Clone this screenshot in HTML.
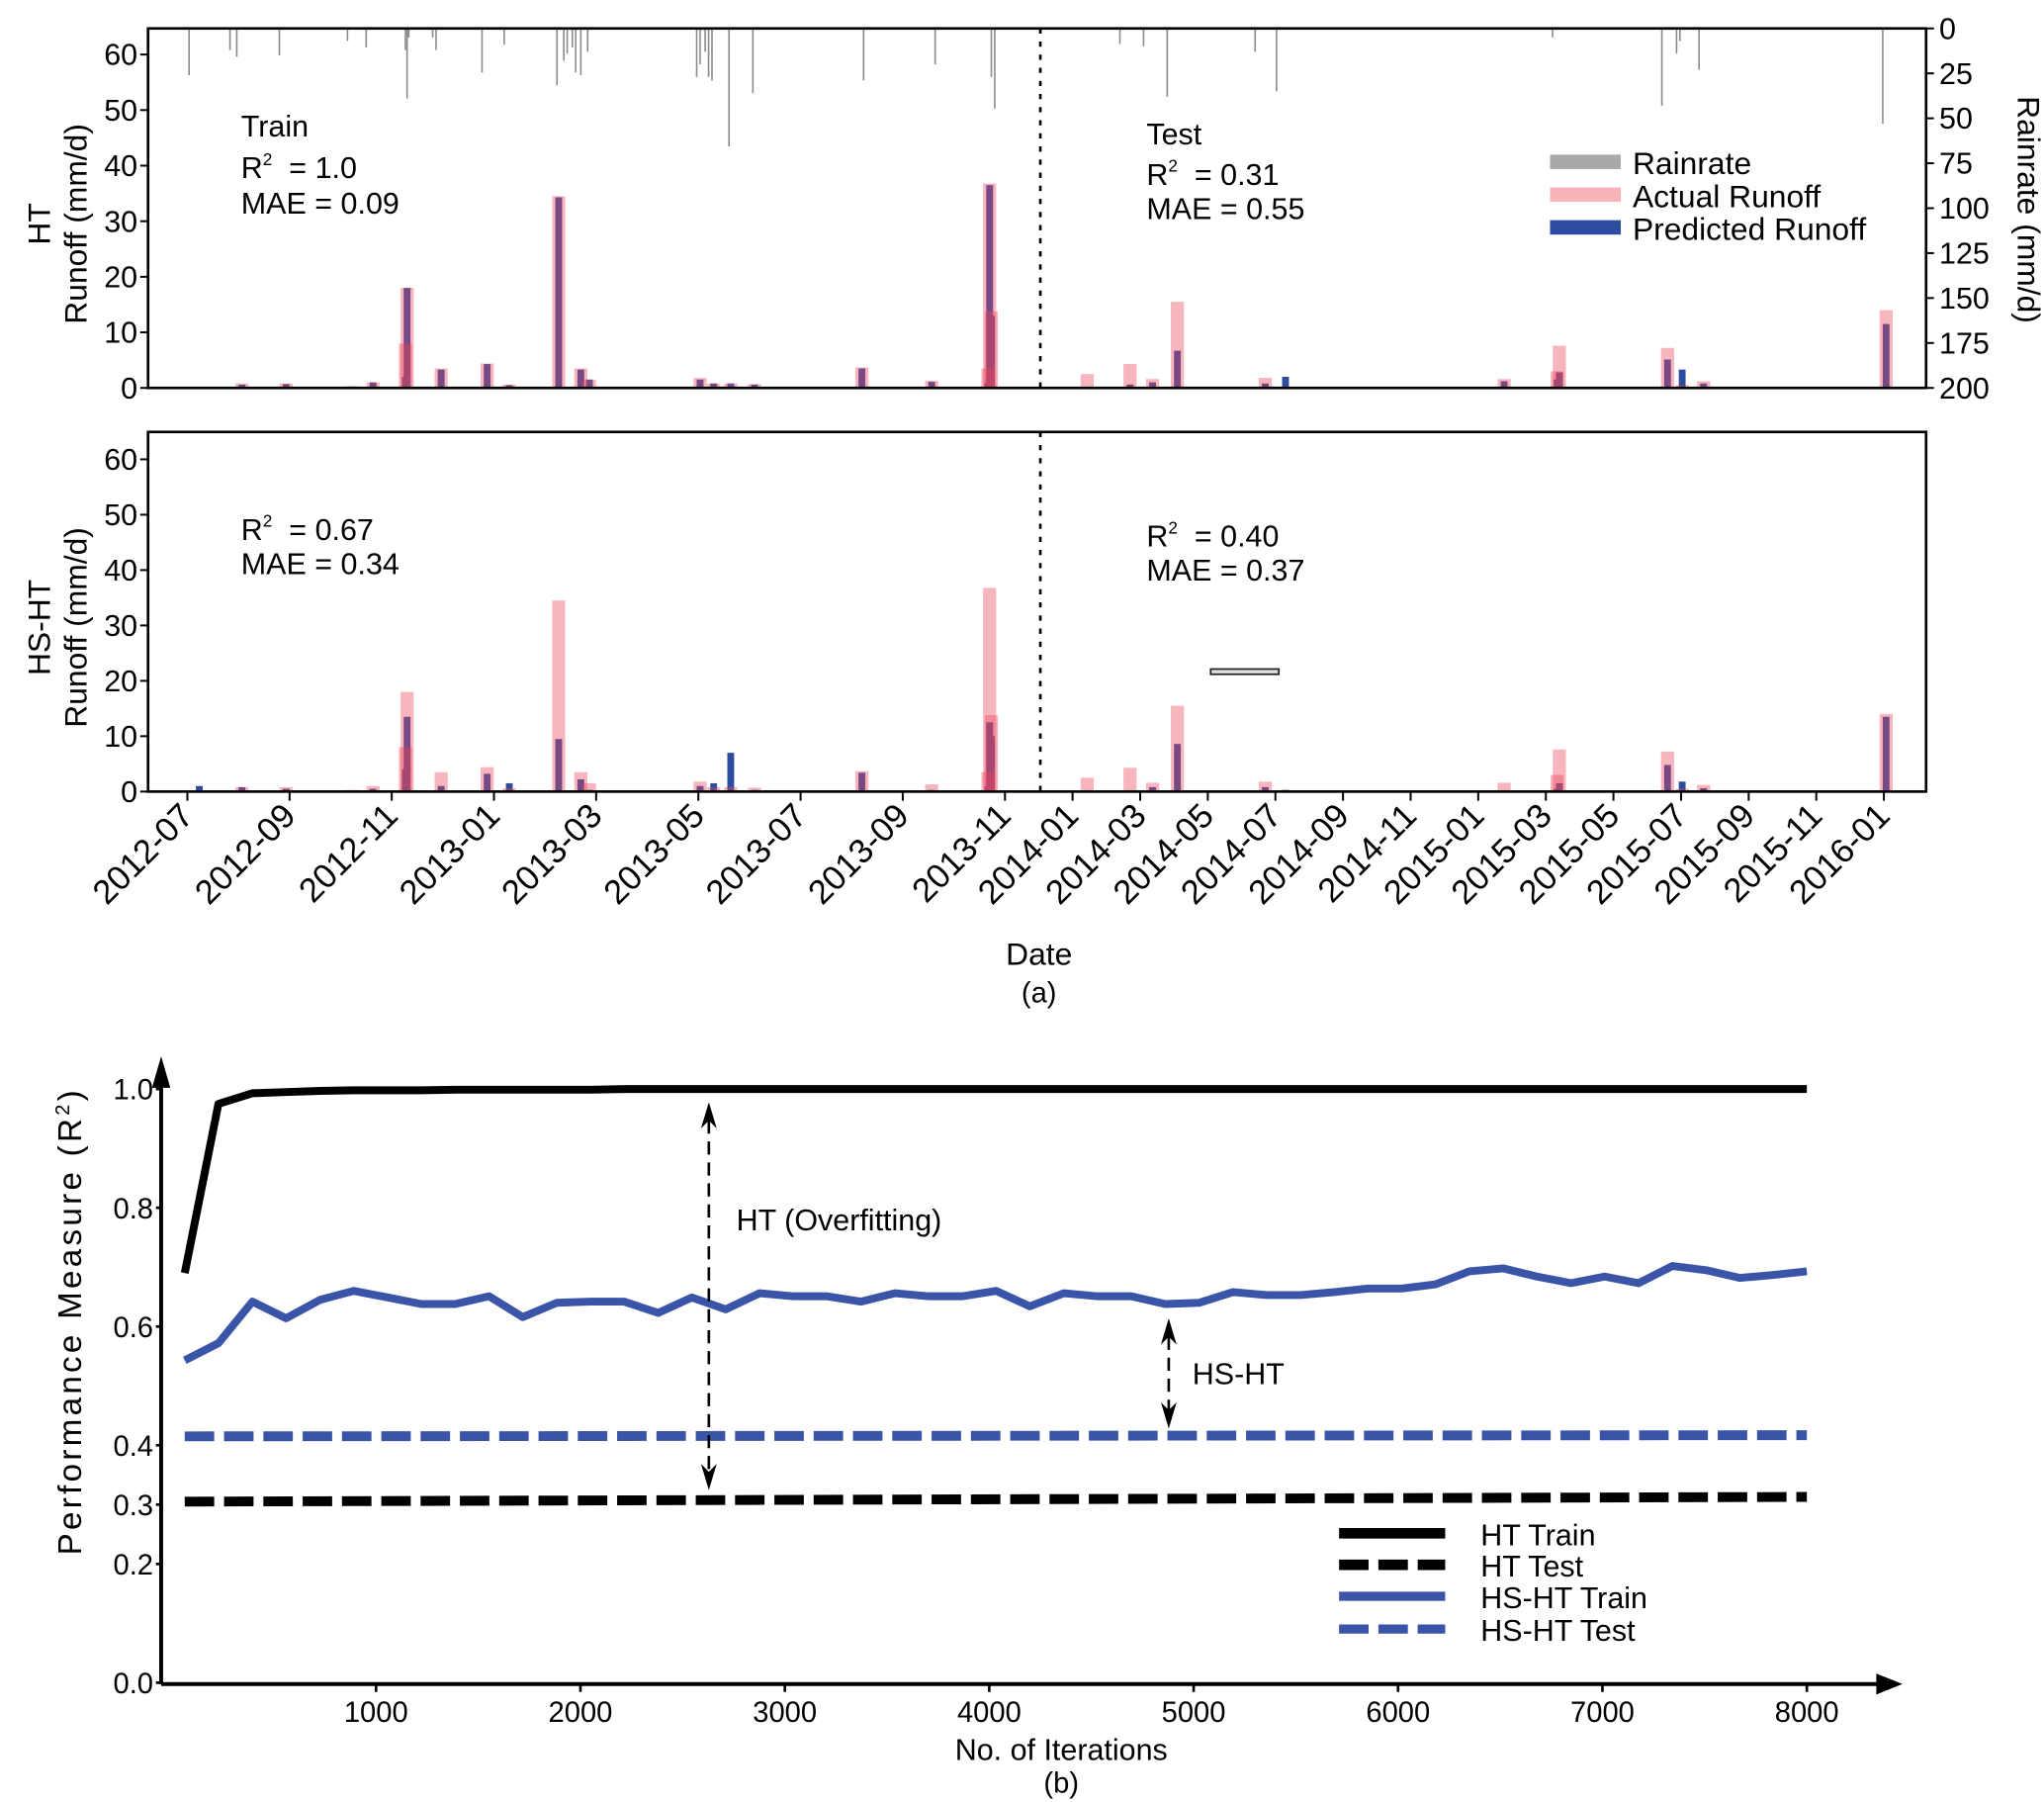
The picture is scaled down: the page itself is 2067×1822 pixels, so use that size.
<!DOCTYPE html>
<html><head><meta charset="utf-8"><style>
html,body{margin:0;padding:0;background:#fff;}
svg{display:block;font-family:"Liberation Sans",Arial,sans-serif;}
</style></head><body>
<svg id="fig" width="2067" height="1822" viewBox="0 0 1560 1375" preserveAspectRatio="none" xmlns="http://www.w3.org/2000/svg">
<rect width="1560" height="1375" fill="#fff"/>
<g id="pa"></g>
<g id="pb"></g>
</svg>
<script>
// ---------- Panel (a) data ----------
const eventDates = ["2012-07-08","2012-08-03","2012-08-29","2012-10-08","2012-10-20","2012-11-09","2012-11-10","2012-11-30","2012-12-27","2013-01-10","2013-02-09","2013-02-22","2013-02-27","2013-05-02","2013-05-10","2013-05-20","2013-06-04","2013-08-07","2013-09-18","2013-10-21","2013-10-22","2013-10-23","2014-01-14","2014-02-22","2014-03-12","2014-04-04","2014-06-22","2014-07-10","2015-01-24","2015-03-11","2015-03-13","2015-06-19","2015-07-02","2015-07-21","2016-01-03"];
const actualRunoff = [0,0.8,0.8,0.3,1.0,8,18,3.5,4.4,0.6,34.5,3.5,1.5,1.8,0.8,0.8,0.7,3.7,1.3,3.5,36.8,13.8,2.5,4.3,1.6,15.5,1.8,0,1.6,3.0,7.6,7.2,0.5,1.2,14];
const predHT = [0,0.6,0.7,0.2,1.0,2,18,3.3,4.3,0.5,34.3,3.3,1.5,1.5,0.8,0.8,0.6,3.5,1.1,1,36.5,13,0.1,0.6,1.0,6.7,0.8,2.0,1.2,1.5,2.8,5.1,3.3,0.8,11.5];
const predHSHT = [1.0,0.8,0.5,0.2,0.5,4,13.5,1,3.2,1.5,9.5,2.2,0.3,1.0,1.5,7.0,0.3,3.4,0.3,1,12.5,10,0,0,0.8,8.6,0.8,0.3,0,0.5,1.5,4.8,1.8,0.6,13.5];
const rainDates = ["2012-07-02","2012-07-26","2012-07-30","2012-08-25","2012-10-05","2012-10-16","2012-11-09","2012-11-10","2012-11-11","2012-11-25","2012-11-27","2012-12-24","2013-01-07","2013-02-08","2013-02-12","2013-02-14","2013-02-17","2013-02-19","2013-02-22","2013-02-26","2013-04-30","2013-05-02","2013-05-05","2013-05-07","2013-05-09","2013-05-19","2013-06-03","2013-08-08","2013-09-20","2013-10-23","2013-10-25","2014-02-13","2014-03-04","2014-03-25","2014-06-13","2014-07-02","2015-03-07","2015-06-14","2015-06-27","2015-06-30","2015-07-17","2015-12-30"];
const rainValues = [26,12,15.8,15,7,10.6,12,39,5,5,12,24.5,9,31.6,18,14,10.6,24.5,26,13,27,20,13,27,29,65.6,36,29,20,27,44.6,8.7,9.9,38,13,35,5,43,14,7,23,53];
const dateTicks = ["2012-07","2012-09","2012-11","2013-01","2013-03","2013-05","2013-07","2013-09","2013-11","2014-01","2014-03","2014-05","2014-07","2014-09","2014-11","2015-01","2015-03","2015-05","2015-07","2015-09","2015-11","2016-01"];
const runoffTicks = [0,10,20,30,40,50,60];
const rainTicks = [0,25,50,75,100,125,150,175,200];

// ---------- Panel (b) data ----------
const iterations = [64,229,395,560,726,891,1057,1222,1387,1553,1718,1884,2049,2214,2380,2545,2711,2876,3041,3207,3372,3538,3703,3868,4034,4199,4365,4530,4695,4861,5026,5192,5357,5522,5688,5853,6019,6184,6349,6515,6680,6846,7011,7176,7342,7507,7673,7838,8000];
const htTrain = [0.69,0.975,0.993,0.995,0.997,0.998,0.998,0.998,0.999,0.999,0.999,0.999,0.999,1,1,1,1,1,1,1,1,1,1,1,1,1,1,1,1,1,1,1,1,1,1,1,1,1,1,1,1,1,1,1,1,1,1,1,1];
const hsTrain = [0.543,0.572,0.642,0.614,0.645,0.660,0.649,0.638,0.638,0.651,0.616,0.640,0.642,0.642,0.623,0.649,0.629,0.656,0.651,0.651,0.642,0.656,0.651,0.651,0.660,0.634,0.656,0.651,0.651,0.638,0.640,0.658,0.653,0.653,0.658,0.664,0.664,0.671,0.693,0.698,0.684,0.673,0.684,0.673,0.702,0.695,0.682,0.687,0.693];
const htTestStart = [64, 0.305];
const htTestEnd = [8000, 0.313];
const hsTestStart = [64, 0.415];
const hsTestEnd = [8000, 0.417];
const rTicks = [0,0.2,0.3,0.4,0.6,0.8,1.0];
const iterTicks = [1000,2000,3000,4000,5000,6000,7000,8000];

const NS="http://www.w3.org/2000/svg";
function mk(parent,tag,attrs,text){const e=document.createElementNS(NS,tag);for(const k in attrs)e.setAttribute(k,attrs[k]);if(text!==undefined)e.textContent=text;parent.appendChild(e);return e;}

function monthIndex(s){const p=s.split("-").map(Number);return (p[0]-2012)*12+(p[1]-7)+((p[2]||1)-1)/30;}
function xDate(s){const m=monthIndex(s);return m<=16?143+39*m:767+25.8*(m-16);}
const yA=v=>296-v*4.24, yB=v=>604-v*4.225, yRain=v=>21.7+v/200*274.3;

const pa=document.getElementById('pa');
const panels=[{top:21.7,bot:296,y:yA,pred:predHT,title:"HT",name:"ht"},{top:329.6,bot:604,y:yB,pred:predHSHT,title:"HS-HT",name:"hsht"}];
const L=113,R=1470;
panels.forEach((P,pi)=>{
  const g=mk(pa,'g',{});
  
  
  eventDates.forEach((d,i)=>{
    const x=xDate(d);
    const v=P.pred[i];
    if(v>0){const r=mk(g,'rect',{x:x-2.6,y:P.y(v),width:5.2,height:P.bot-P.y(v),fill:'#2e4c9f'});
      
      }
  });
  eventDates.forEach((d,i)=>{
    const x=xDate(d);
    const v=actualRunoff[i];
    if(v>0){const r=mk(g,'rect',{x:x-5,y:P.y(v),width:10,height:P.bot-P.y(v),fill:'rgb(235,70,90)','fill-opacity':0.4});
      
      }
  });
  if(pi===0){
    rainDates.forEach((d,i)=>{
      const x=xDate(d);
      const l=mk(g,'line',{x1:x,x2:x,y1:P.top,y2:yRain(rainValues[i]),stroke:'#8a8a8a','stroke-width':1.2});
      
      
    });
    rainTicks.forEach(v=>{
      const y=yRain(v);
      mk(g,'line',{x1:R,x2:R+6,y1:y,y2:y,stroke:'#000','stroke-width':1.5});
      const t=mk(g,'text',{x:R+10,y:y+8,'font-size':23},String(v));
      
      
    });
  }
  mk(g,'rect',{x:L,y:P.top,width:R-L,height:P.bot-P.top,fill:'none',stroke:'#000','stroke-width':2});
  runoffTicks.forEach(v=>{
    const y=P.y(v);
    mk(g,'line',{x1:L-6,x2:L,y1:y,y2:y,stroke:'#000','stroke-width':1.5});
    const t=mk(g,'text',{x:L-8,y:y+8,'font-size':23,'text-anchor':'end'},String(v));
    
    
  });
  mk(g,'line',{x1:794,x2:794,y1:P.top,y2:P.bot,stroke:'#000','stroke-width':2,'stroke-dasharray':'4,6'});
  const cy=(P.top+P.bot)/2+12;
  const t1=mk(g,'text',{x:38,y:cy,'font-size':24,'text-anchor':'middle',transform:`rotate(-90 38 ${cy})`},P.title);
  
  
  const t2=mk(g,'text',{x:66,y:cy,'font-size':24,'text-anchor':'middle',transform:`rotate(-90 66 ${cy})`},"Runoff (mm/d)");
  
  
});
dateTicks.forEach(s=>{
  const x=xDate(s+"-01");
  mk(pa,'line',{x1:x,x2:x,y1:604,y2:611,stroke:'#000','stroke-width':1.5});
  const t=mk(pa,'text',{x:x+6,y:624,'font-size':26,'text-anchor':'end',transform:`rotate(-45 ${x+6} 624)`},s);
  
  
});
function txt(p,x,y,s,fs,name,extra){const t=mk(p,'text',Object.assign({x:x,y:y,'font-size':fs},extra||{}));
  t.innerHTML=s;return t;}
txt(pa,1540,160,"Rainrate (mm/d)",24,'rainrate-axis-title',{'text-anchor':'middle',transform:'rotate(90 1540 160)'});
txt(pa,793,736,"Date",24,'x-axis-title',{'text-anchor':'middle'});
txt(pa,793,765,"(a)",22,'panel-a-caption',{'text-anchor':'middle'});
txt(pa,184,104,"Train",23,'train-label');
txt(pa,184,136,'R<tspan font-size="13" dy="-10">2</tspan><tspan dy="10"> &#160;= 1.0</tspan>',23,'train-r2');
txt(pa,184,163,"MAE = 0.09",23,'train-mae');
txt(pa,875,110,"Test",23,'test-label');
txt(pa,875,141,'R<tspan font-size="13" dy="-10">2</tspan><tspan dy="10"> &#160;= 0.31</tspan>',23,'test-r2');
txt(pa,875,167,"MAE = 0.55",23,'test-mae');
txt(pa,184,412,'R<tspan font-size="13" dy="-10">2</tspan><tspan dy="10"> &#160;= 0.67</tspan>',23,'hs-train-r2');
txt(pa,184,438,"MAE = 0.34",23,'hs-train-mae');
txt(pa,875,417,'R<tspan font-size="13" dy="-10">2</tspan><tspan dy="10"> &#160;= 0.40</tspan>',23,'hs-test-r2');
txt(pa,875,443,"MAE = 0.37",23,'hs-test-mae');
mk(pa,'rect',{x:924,y:510.5,width:52,height:4,fill:'#ddd',stroke:'#222','stroke-width':1.3});
[["#a9a9a9","Rainrate",124],["#f7b4b8","Actual Runoff",149],["#2e4c9f","Predicted Runoff",174]].forEach(a=>{
  const r=mk(pa,'rect',{x:1183,y:a[2]-6,width:54,height:11,fill:a[0]});
  
  
  txt(pa,1246,a[2]+9,a[1],24,'legend-entry');
});

// ---------- Panel (b) ----------
const pb=document.getElementById('pb');
const xI=v=>131+v*0.156, yR=v=>1284-v*453;
function poly(arr,vals,color,dash,name){
  const pts=arr.map((it,i)=>xI(it).toFixed(1)+','+yR(vals[i]).toFixed(1)).join(' ');
  const p=mk(pb,'polyline',{points:pts,fill:'none',stroke:color,'stroke-width':dash?7.5:6,'stroke-linejoin':'round'});
  if(dash)p.setAttribute('stroke-dasharray',dash);
  
  
}
poly(iterations,htTrain,'#000',null,'ht-train-line');
poly(iterations,hsTrain,'#3a55a8',null,'hs-ht-train-line');
poly([htTestStart[0],htTestEnd[0]],[htTestStart[1],htTestEnd[1]],'#000','22.5,7.5','ht-test-line');
poly([hsTestStart[0],hsTestEnd[0]],[hsTestStart[1],hsTestEnd[1]],'#3a55a8','22.5,7.5','hs-ht-test-line');
mk(pb,'line',{x1:123,x2:1440,y1:1285,y2:1285,stroke:'#000','stroke-width':3});
mk(pb,'polygon',{points:'1452,1285 1432,1277 1432,1293',fill:'#000'});
mk(pb,'line',{x1:123,x2:123,y1:1285,y2:822,stroke:'#000','stroke-width':3});
mk(pb,'polygon',{points:'123,806 116,830 130,830',fill:'#000'});
rTicks.forEach(v=>{const y=yR(v);
  mk(pb,'line',{x1:119,x2:123,y1:y,y2:y,stroke:'#000','stroke-width':2});
  txt(pb,117,y+8,v.toFixed(1),22,'r2-tick-label',{'text-anchor':'end'});});
iterTicks.forEach(v=>{const x=xI(v);
  mk(pb,'line',{x1:x,x2:x,y1:1285,y2:1291,stroke:'#000','stroke-width':2});
  txt(pb,x,1314,String(v),22,'iteration-tick-label',{'text-anchor':'middle'});});
txt(pb,810,1343,"No. of Iterations",23,'x-axis-title',{'text-anchor':'middle'});
txt(pb,810,1368,"(b)",22,'panel-b-caption',{'text-anchor':'middle'});
txt(pb,62,1008,'Performance Measure (R<tspan font-size="15" dy="-9">2</tspan><tspan dy="9">)</tspan>',25,'y-axis-title',{'text-anchor':'middle','letter-spacing':'2.5',transform:'rotate(-90 62 1008)'});
function darrow(x,y1,y2,name){
  const l=mk(pb,'line',{x1:x,x2:x,y1:y1+14,y2:y2-14,stroke:'#000','stroke-width':2,'stroke-dasharray':'10,6'});
  
  
  mk(pb,'polygon',{points:`${x},${y1} ${x-6},${y1+20} ${x},${y1+14} ${x+6},${y1+20}`,fill:'#000'});
  mk(pb,'polygon',{points:`${x},${y2} ${x-6},${y2-20} ${x},${y2-14} ${x+6},${y2-20}`,fill:'#000'});
}
darrow(541,841,1137,'overfitting-arrow');
darrow(892,1006,1090,'hs-ht-gap-arrow');
txt(pb,562,939,"HT (Overfitting)",23,'overfitting-label');
txt(pb,910,1056,"HS-HT",23,'hs-ht-gap-label');
[["#000",null,1170,"HT Train"],["#000","22.5,7.5",1194,"HT Test"],["#3a55a8",null,1218,"HS-HT Train"],["#3a55a8","22.5,7.5",1243,"HS-HT Test"]].forEach(a=>{
  const l=mk(pb,'line',{x1:1022,x2:1103,y1:a[2],y2:a[2],stroke:a[0],'stroke-width':a[0]==="#000"?8:7});
  if(a[1])l.setAttribute('stroke-dasharray',a[1]);
  
  
  txt(pb,1130,a[2]+9,a[3],23,'legend-entry');
});
</script>
</body></html>
